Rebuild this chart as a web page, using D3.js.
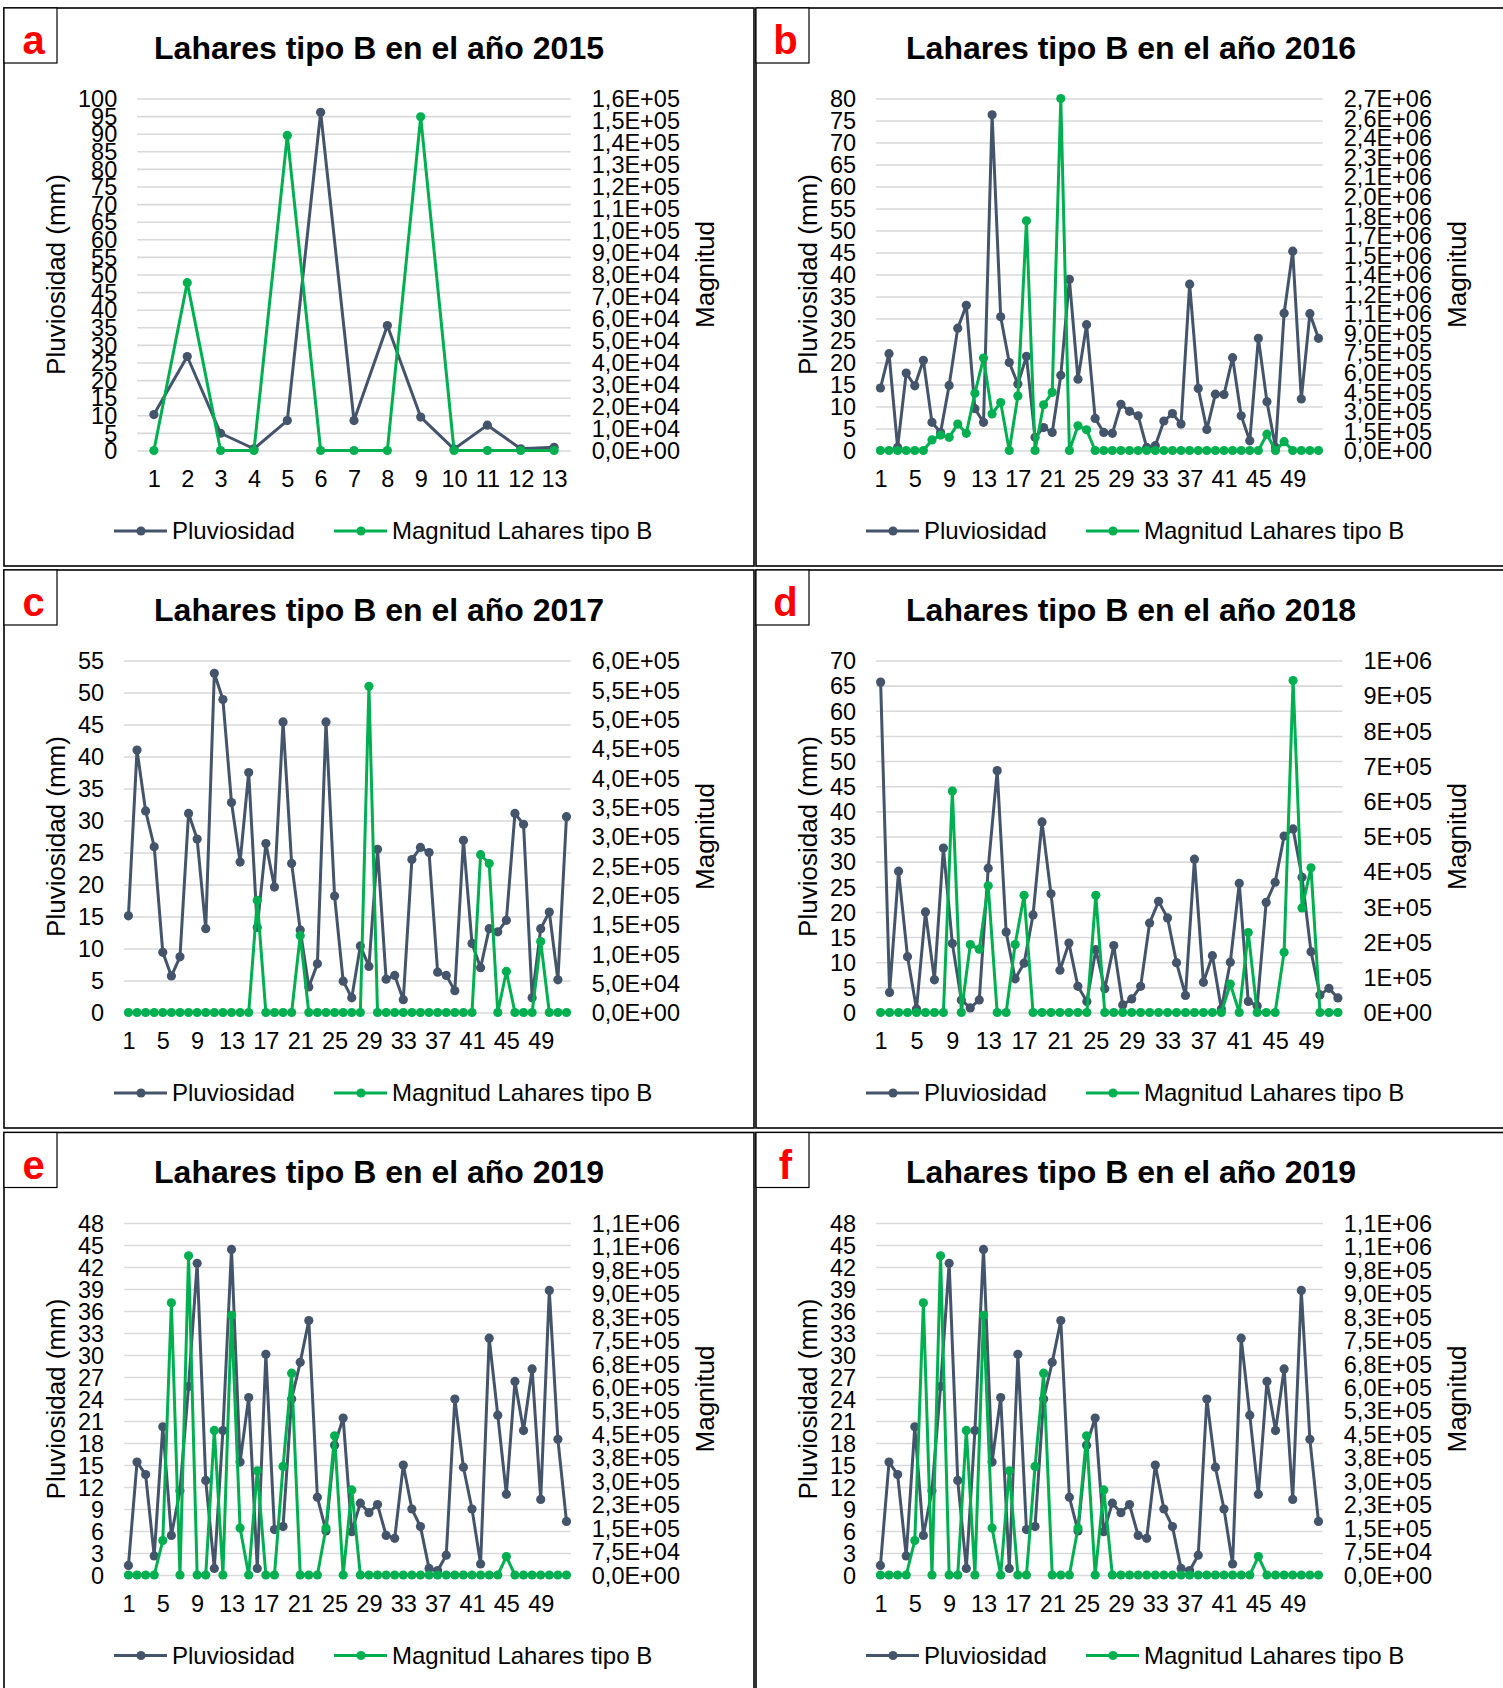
<!DOCTYPE html>
<html>
<head>
<meta charset="utf-8">
<script src="https://cdn.jsdelivr.net/npm/d3@7"></script>
<style>
  html, body { margin: 0; padding: 0; background: #fff; }
  svg { display: block; }
</style>
</head>
<body>
<svg id="chart" width="1503" height="1688"></svg>
<script>
// ---- categories (weeks) ----
const weeks13 = [1, 2, 3, 4, 5, 6, 7, 8, 9, 10, 11, 12, 13];
const weeks52 = [1, 2, 3, 4, 5, 6, 7, 8, 9, 10, 11, 12, 13, 14, 15, 16, 17, 18, 19, 20, 21, 22, 23, 24, 25, 26,
                 27, 28, 29, 30, 31, 32, 33, 34, 35, 36, 37, 38, 39, 40, 41, 42, 43, 44, 45, 46, 47, 48, 49, 50, 51, 52];
const xLabels13 = [1, 2, 3, 4, 5, 6, 7, 8, 9, 10, 11, 12, 13];
const xLabels52 = [1, 5, 9, 13, 17, 21, 25, 29, 33, 37, 41, 45, 49];

// ---- 2015 ----
const rain2015 = [10.2, 26.7, 4.9, 0.5, 8.5, 96.1, 8.5, 35.5, 9.5, 0.4, 7.2, 0.5, 0.9];
const mag2015  = [0, 76300, 0, 0, 143200, 0, 0, 0, 151700, 0, 0, 0, 0];
const leftTicks2015  = [0, 5, 10, 15, 20, 25, 30, 35, 40, 45, 50, 55, 60, 65, 70, 75, 80, 85, 90, 95, 100];
const rightTicks2015 = [0, 10000, 20000, 30000, 40000, 50000, 60000, 70000, 80000, 90000, 100000,
                        110000, 120000, 130000, 140000, 150000, 160000];

// ---- 2016 ----
const rain2016 = [14.2, 22.0, 0.7, 17.6, 14.7, 20.5, 6.4, 4.1, 14.8, 27.8, 33.0, 9.5, 6.4, 76.3, 30.4, 20.0,
                  15.1, 21.4, 3.0, 5.2, 4.1, 17.1, 38.9, 16.2, 28.6, 7.3, 4.1, 3.9, 10.5, 8.9, 7.9, 0.7, 1.1,
                  6.7, 8.4, 6.0, 37.8, 14.1, 4.8, 12.8, 12.7, 21.1, 7.9, 2.2, 25.5, 11.1, 0.7, 31.2, 45.3,
                  11.7, 31.1, 25.5];
const mag2016  = [0, 0, 0, 0, 0, 0, 81000, 118000, 101000, 203000, 132000, 439000, 709000, 280000, 368000, 0,
                  419000, 1762000, 0, 351000, 446000, 2700000, 0, 189000, 159000, 0, 0, 0, 0, 0, 0, 0, 0,
                  0, 0, 0, 0, 0, 0, 0, 0, 0, 0, 0, 0, 125000, 0, 68000, 0, 0, 0, 0];
const leftTicks2016  = [0, 5, 10, 15, 20, 25, 30, 35, 40, 45, 50, 55, 60, 65, 70, 75, 80];
const rightTicks2016 = [0, 150000, 300000, 450000, 600000, 750000, 900000, 1050000, 1200000, 1350000,
                        1500000, 1650000, 1800000, 1950000, 2100000, 2250000, 2400000, 2550000, 2700000];

// ---- 2017 ----
const rain2017 = [15.1, 41.0, 31.5, 25.9, 9.4, 5.7, 8.7, 31.1, 27.1, 13.1, 53.0, 48.9, 32.8, 23.5, 37.5, 13.3,
                  26.4, 19.6, 45.4, 23.3, 12.9, 4.0, 7.6, 45.4, 18.2, 4.9, 2.3, 10.4, 7.2, 25.5, 5.2, 5.8,
                  2.0, 23.9, 25.8, 25.0, 6.3, 5.8, 3.4, 26.9, 10.8, 7.0, 13.1, 12.6, 14.4, 31.1, 29.4, 2.3,
                  13.1, 15.7, 5.1, 30.6];
const mag2017  = [0, 0, 0, 0, 0, 0, 0, 0, 0, 0, 0, 0, 0, 0, 0, 191000, 0, 0, 0, 0, 131000, 0, 0, 0, 0, 0,
                  0, 0, 556000, 0, 0, 0, 0, 0, 0, 0, 0, 0, 0, 0, 0, 269000, 254000, 0, 70000, 0, 0, 0,
                  121000, 0, 0, 0];
const leftTicks2017  = [0, 5, 10, 15, 20, 25, 30, 35, 40, 45, 50, 55];
const rightTicks2017 = [0, 50000, 100000, 150000, 200000, 250000, 300000, 350000, 400000, 450000, 500000,
                        550000, 600000];

// ---- 2018 ----
const rain2018 = [65.7, 4.0, 28.1, 11.1, 0.7, 20.0, 6.5, 32.7, 13.7, 2.5, 0.9, 2.5, 28.7, 48.1, 16.0, 6.7,
                  9.8, 19.4, 37.9, 23.6, 8.4, 13.8, 5.2, 2.2, 12.5, 4.7, 13.3, 1.5, 2.7, 5.2, 17.8, 22.1,
                  18.8, 9.9, 3.4, 30.5, 6.0, 11.3, 0.7, 10.0, 25.7, 2.2, 1.3, 21.9, 25.9, 35.1, 36.5, 26.9,
                  12.1, 3.5, 4.8, 2.9];
const mag2018  = [0, 0, 0, 0, 0, 0, 0, 0, 629000, 0, 193000, 180000, 360000, 0, 0, 193000, 333000, 0, 0, 0,
                  0, 0, 0, 0, 333000, 0, 0, 0, 0, 0, 0, 0, 0, 0, 0, 0, 0, 0, 0, 81000, 0, 227000, 0, 0, 0,
                  171000, 943000, 297000, 411000, 0, 0, 0];
const leftTicks2018  = [0, 5, 10, 15, 20, 25, 30, 35, 40, 45, 50, 55, 60, 65, 70];
const rightTicks2018 = [0, 100000, 200000, 300000, 400000, 500000, 600000, 700000, 800000, 900000, 1000000];

// ---- 2019 ----
const rain2019 = [1.3, 15.4, 13.7, 2.6, 20.2, 5.4, 11.5, 25.7, 42.5, 12.9, 0.9, 19.7, 44.4, 15.4, 24.2, 0.9,
                  30.1, 6.2, 6.6, 24.0, 29.0, 34.7, 10.6, 6.0, 17.7, 21.4, 5.9, 9.8, 8.5, 9.6, 5.4, 5.0,
                  15.0, 9.0, 6.6, 0.9, 0.6, 2.7, 24.0, 14.7, 9.0, 1.5, 32.3, 21.8, 11.0, 26.4, 19.7, 28.1,
                  10.3, 38.8, 18.5, 7.3];
const mag2019  = [0, 0, 0, 0, 110000, 870000, 0, 1020000, 0, 0, 462000, 0, 830000, 150000, 0, 333000, 0, 0,
                  347000, 645000, 0, 0, 0, 150000, 445000, 0, 272000, 0, 0, 0, 0, 0, 0, 0, 0, 0, 0, 0, 0,
                  0, 0, 0, 0, 0, 59000, 0, 0, 0, 0, 0, 0, 0];
const leftTicks2019  = [0, 3, 6, 9, 12, 15, 18, 21, 24, 27, 30, 33, 36, 39, 42, 45, 48];
const rightTicks2019 = [0, 75000, 150000, 225000, 300000, 375000, 450000, 525000, 600000, 675000, 750000,
                        825000, 900000, 975000, 1050000, 1125000];

const seriesNames = ["Pluviosidad", "Magnitud Lahares tipo B"];

// ---- panel table ----
const panels = [
  { letter: "a", year: 2015, col: 0, row: 0, weeks: weeks13, xLabels: xLabels13, rain: rain2015, mag: mag2015, leftTicks: leftTicks2015, rightTicks: rightTicks2015, digits: 1 },
  { letter: "b", year: 2016, col: 1, row: 0, weeks: weeks52, xLabels: xLabels52, rain: rain2016, mag: mag2016, leftTicks: leftTicks2016, rightTicks: rightTicks2016, digits: 1 },
  { letter: "c", year: 2017, col: 0, row: 1, weeks: weeks52, xLabels: xLabels52, rain: rain2017, mag: mag2017, leftTicks: leftTicks2017, rightTicks: rightTicks2017, digits: 1 },
  { letter: "d", year: 2018, col: 1, row: 1, weeks: weeks52, xLabels: xLabels52, rain: rain2018, mag: mag2018, leftTicks: leftTicks2018, rightTicks: rightTicks2018, digits: 0 },
  { letter: "e", year: 2019, col: 0, row: 2, weeks: weeks52, xLabels: xLabels52, rain: rain2019, mag: mag2019, leftTicks: leftTicks2019, rightTicks: rightTicks2019, digits: 1 },
  { letter: "f", year: 2019, col: 1, row: 2, weeks: weeks52, xLabels: xLabels52, rain: rain2019, mag: mag2019, leftTicks: leftTicks2019, rightTicks: rightTicks2019, digits: 1 }
];

// ---- styling ----
const FONT = '"Liberation Sans", Arial, Helvetica, sans-serif';
const TICK = 23.5;
const RAIN_COLOR = "#44546A";
const MAG_COLOR = "#00B050";
const GRID_COLOR = "#D9D9D9";
const colX = [5, 757];
const rowY = [9, 571, 1133.5];

const svg = d3.select("#chart");
svg.append("rect").attr("width", 1503).attr("height", 1688).attr("fill", "#fff");

function textWidth(str, size, weight) {
  const t = svg.append("text").attr("font-family", FONT).attr("font-size", size)
    .attr("font-weight", weight || "normal").text(str);
  const w = t.node().getComputedTextLength();
  t.remove();
  return w;
}

// Excel-style scientific labels: 1,6E+05
function sci(v, digits) {
  const parts = v.toExponential(digits).split("e");
  const ex = parseInt(parts[1], 10);
  return parts[0].replace(".", ",") + "E" + (ex < 0 ? "-" : "+") + String(Math.abs(ex)).padStart(2, "0");
}

function styleAxisText(sel) {
  sel.attr("font-family", null).attr("font-size", null);
  sel.selectAll("text").attr("font-family", FONT).attr("font-size", TICK).attr("fill", "#000");
}

panels.forEach(p => {
  const g = svg.append("g").attr("transform", `translate(${colX[p.col]},${rowY[p.row]})`);
  const fmtR = v => sci(v, p.digits);

  const wL = d3.max(p.leftTicks, v => textWidth(String(v), TICK));
  const wR = d3.max(p.rightTicks, v => textWidth(fmtR(v), TICK));
  const left = 93 + wL, right = 654 - wR, top = 89.5, bottom = 441.5;

  const x = d3.scalePoint().domain(p.weeks).range([left, right]).padding(0.5);
  const yL = d3.scaleLinear().domain([0, d3.max(p.leftTicks)]).range([bottom, top]);
  const yR = d3.scaleLinear().domain([0, d3.max(p.rightTicks)]).range([bottom, top]);

  // frame
  g.append("rect").attr("x", -1).attr("y", -1).attr("width", 750).attr("height", 558)
    .attr("fill", "#fff").attr("stroke", "#000").attr("stroke-width", 1.6);

  // panel letter
  g.append("rect").attr("x", -1).attr("y", -1).attr("width", 53).attr("height", 55)
    .attr("fill", "#fff").attr("stroke", "#000").attr("stroke-width", 1.2);
  g.append("text").attr("x", 28.5).attr("y", 45).attr("text-anchor", "middle")
    .attr("font-family", FONT).attr("font-weight", "bold").attr("font-size", 40)
    .attr("fill", "#FF0000").text(p.letter);

  // title
  g.append("text").attr("x", 374).attr("y", 38.5).attr("dy", "0.35em").attr("text-anchor", "middle")
    .attr("font-family", FONT).attr("font-weight", "bold").attr("font-size", 32).attr("fill", "#000")
    .text("Lahares tipo B en el año " + p.year);

  // horizontal gridlines (primary axis)
  const grid = g.append("g").attr("transform", `translate(${left},0)`)
    .call(d3.axisLeft(yL).tickValues(p.leftTicks).tickSize(-(right - left)).tickFormat(""));
  grid.select(".domain").remove();
  grid.selectAll("line").attr("stroke", GRID_COLOR).attr("stroke-width", 1.6);

  // left axis labels
  const axL = g.append("g").attr("transform", `translate(${left},0)`)
    .call(d3.axisLeft(yL).tickValues(p.leftTicks).tickSize(0).tickPadding(20));
  axL.select(".domain").remove();
  styleAxisText(axL);
  axL.selectAll("text").attr("dy", "0.35em");

  // right axis labels
  const axR = g.append("g").attr("transform", `translate(${right},0)`)
    .call(d3.axisRight(yR).tickValues(p.rightTicks).tickFormat(fmtR).tickSize(0).tickPadding(21));
  axR.select(".domain").remove();
  styleAxisText(axR);
  axR.selectAll("text").attr("dy", "0.35em");

  // category axis
  const axB = g.append("g").attr("transform", `translate(0,${bottom})`)
    .call(d3.axisBottom(x).tickValues(p.xLabels).tickSize(0));
  axB.select(".domain").remove();
  styleAxisText(axB);
  axB.selectAll("text").attr("y", 28.5).attr("dy", "0.35em");

  // axis titles
  g.append("text").attr("transform", `translate(51,${(top + bottom) / 2}) rotate(-90)`)
    .attr("dy", "0.35em").attr("text-anchor", "middle").attr("font-family", FONT)
    .attr("font-size", 26).attr("fill", "#000").text("Pluviosidad (mm)");
  g.append("text").attr("transform", `translate(700,${(top + bottom) / 2}) rotate(-90)`)
    .attr("dy", "0.35em").attr("text-anchor", "middle").attr("font-family", FONT)
    .attr("font-size", 26).attr("fill", "#000").text("Magnitud");

  // series
  const rainLine = d3.line().x((d, i) => x(p.weeks[i])).y(d => yL(d));
  const magLine = d3.line().x((d, i) => x(p.weeks[i])).y(d => yR(d));

  g.append("path").datum(p.rain).attr("d", rainLine).attr("fill", "none")
    .attr("stroke", RAIN_COLOR).attr("stroke-width", 3).attr("stroke-linejoin", "round");
  g.append("g").selectAll("circle").data(p.rain).join("circle")
    .attr("cx", (d, i) => x(p.weeks[i])).attr("cy", d => yL(d)).attr("r", 4.6).attr("fill", RAIN_COLOR);

  g.append("path").datum(p.mag).attr("d", magLine).attr("fill", "none")
    .attr("stroke", MAG_COLOR).attr("stroke-width", 3).attr("stroke-linejoin", "round");
  g.append("g").selectAll("circle").data(p.mag).join("circle")
    .attr("cx", (d, i) => x(p.weeks[i])).attr("cy", d => yR(d)).attr("r", 4.6).attr("fill", MAG_COLOR);

  // legend
  const legend = [
    { name: seriesNames[0], color: RAIN_COLOR, x0: 109 },
    { name: seriesNames[1], color: MAG_COLOR, x0: 329 }
  ];
  const lg = g.append("g").attr("transform", "translate(0,522)");
  legend.forEach(it => {
    lg.append("line").attr("x1", it.x0).attr("x2", it.x0 + 53).attr("y1", 0).attr("y2", 0)
      .attr("stroke", it.color).attr("stroke-width", 3);
    lg.append("circle").attr("cx", it.x0 + 27).attr("cy", 0).attr("r", 4.6).attr("fill", it.color);
    lg.append("text").attr("x", it.x0 + 58).attr("y", 0).attr("dy", "0.35em")
      .attr("font-family", FONT).attr("font-size", 24).attr("fill", "#000").text(it.name);
  });
});
</script>
</body>
</html>
